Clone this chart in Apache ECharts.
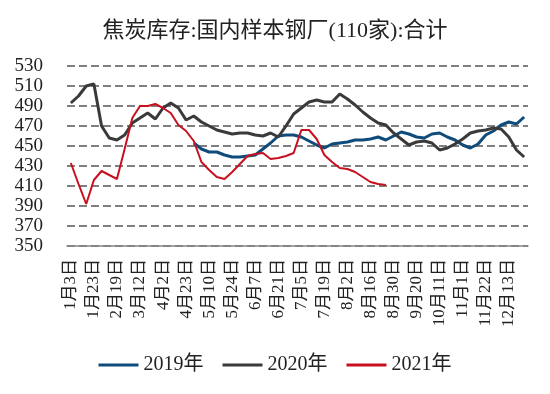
<!DOCTYPE html>
<html><head><meta charset="utf-8">
<script src="https://cdn.jsdelivr.net/npm/echarts@6/dist/echarts.min.js"></script>
<style>html,body{margin:0;padding:0;background:#fff}#c{width:550px;height:394px}</style>
</head><body><div id="c"></div>
<script>
const titleText = '焦炭库存:国内样本钢厂(110家):合计';
const categories = ['1月3日','1月10日','1月17日','1月23日','2月5日','2月12日','2月19日','2月26日','3月5日','3月12日',
'3月19日','3月26日','4月2日','4月9日','4月16日','4月23日','4月29日','5月6日','5月10日','5月14日',
'5月19日','5月24日','5月28日','6月2日','6月7日','6月11日','6月16日','6月21日','6月25日','6月30日',
'7月5日','7月9日','7月14日','7月19日','7月23日','7月28日','8月2日','8月6日','8月11日','8月16日',
'8月20日','8月25日','8月30日','9月6日','9月13日','9月20日','9月27日','10月4日','10月11日','10月18日',
'10月25日','11月1日','11月8日','11月15日','11月22日','11月29日','12月6日','12月13日','12月20日','12月27日'];
const s2019 = [null,null,null,null,null,null,null,null,null,null,
null,null,null,null,null,null,453,447,444,444,
441,439,439,440,441,447,453,460,461,461,
459,455,451,448,452,453,454,456,456,457,
459,456,460,464,462,459,458,462,463,459,
456,451,448,452,461,465,471,474,472,479];
const s2020 = [493,500,510,512,470,458,456,461,473,478,
483,477,488,493,488,476,480,474,470,466,
464,462,463,463,461,460,463,459,470,482,
488,494,496,494,494,502,497,491,484,478,
473,471,463,457,451,454,455,453,446,448,
452,457,463,465,466,468,467,459,446,439];
const s2021 = [433,412,392,416,425,421,417,447,478,490,
490,492,488,483,471,465,455,434,426,419,
417,424,432,440,442,443,437,438,440,443,
466,466,457,441,434,428,427,424,419,414,
412,411,null,null,null,null,null,null,null,null,
null,null,null,null,null,null,null,null,null,null];
const yTicks = {min:350, max:530, interval:20};
const seriesNames = ['2019年','2020年','2021年'];
const colors = ['#0f4c7c','#3a3a3a','#c8101e'];

const serif = "'Liberation Serif','Noto Sans CJK SC',serif";
const chart = echarts.init(document.getElementById('c'), null, {renderer:'canvas'});
const mk = (name, data, color, w) => ({
  name, type:'line', data, connectNulls:true, showSymbol:false, symbol:'none',
  lineStyle:{color, width:w}, itemStyle:{color}, animation:false
});
chart.setOption({
  animation:false,
  title:{text:titleText, left:'center', top:15,
    textStyle:{fontFamily:serif, fontSize:22, fontWeight:'normal', color:'#222'}},
  grid:{left:67, right:22, top:66, bottom:148},
  legend:{bottom:14, left:'center', itemWidth:40, itemHeight:3, itemGap:19, icon:'rect',
    textStyle:{fontFamily:serif, fontSize:20, color:'#222'},
    data:seriesNames},
  xAxis:{type:'category', data:categories, boundaryGap:true,
    axisLine:{lineStyle:{color:'#888', width:1.5}},
    axisTick:{show:false},
    axisLabel:{interval:2, rotate:90, margin:13, fontFamily:serif, fontSize:17, color:'#222'}},
  yAxis:{type:'value', min:yTicks.min, max:yTicks.max, interval:yTicks.interval,
    axisLine:{show:false}, axisTick:{show:false},
    axisLabel:{margin:24, fontFamily:serif, fontSize:19, color:'#222'},
    splitLine:{lineStyle:{color:'#7f7f7f', width:2, type:'dashed', dashOffset:0}}},
  series:[mk(seriesNames[0], s2019, colors[0], 3), mk(seriesNames[1], s2020, colors[1], 3), mk(seriesNames[2], s2021, colors[2], 2)]
});
</script></body></html>
